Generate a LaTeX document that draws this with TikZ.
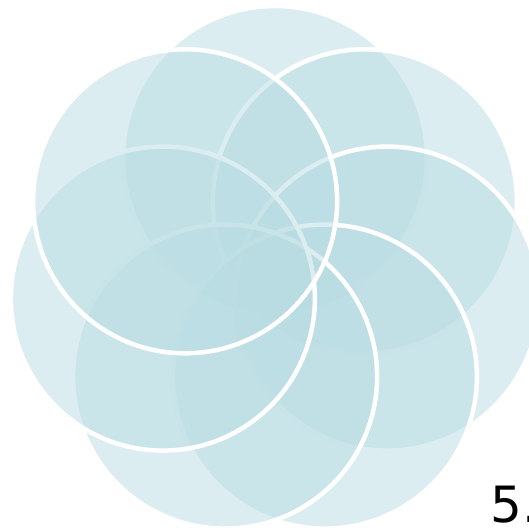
\documentclass[tikz,border=0pt]{standalone}
\usepackage{fontspec}
\usetikzlibrary{calc}
\newfontfamily\labelfont{DejaVu Sans}
\definecolor{petal}{RGB}{184,220,226}
\begin{document}
\begin{tikzpicture}[x=1pt,y=1pt,
  petalstyle/.style={fill=petal, fill opacity=0.5, draw=white, draw opacity=1, line width=4.5pt}]
\useasboundingbox (0,0) rectangle (529,530);
\clip (0,0) rectangle (529,530);
\coordinate (ctr) at (275,257);
\foreach \i in {0,...,6}{
  \pgfmathsetmacro{\ang}{90-\i*360/7}
  \path[petalstyle] ($(ctr)+(\ang:115)$) circle[radius=152];
}
\node[anchor=base west, inner sep=0pt, font=\labelfont\fontsize{50}{60}\selectfont] (num) at (490,8) {5.};
\end{tikzpicture}
\end{document}
